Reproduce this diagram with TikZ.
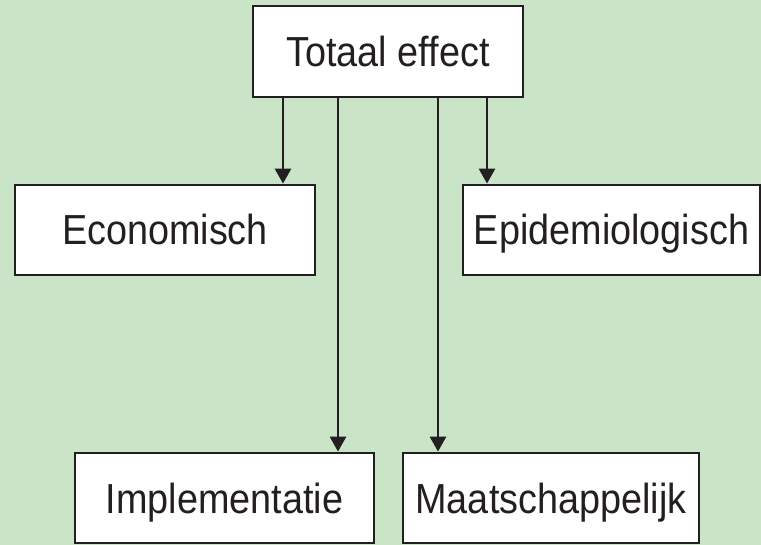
\documentclass[tikz,border=0pt]{standalone}
\usepackage{fontspec}
\setmainfont[FakeStretch=0.9]{Liberation Sans}
\usepackage{tikz}
\usetikzlibrary{arrows.meta}
\definecolor{bggreen}{HTML}{C9E4C7}
\definecolor{inkdark}{HTML}{231F20}

\begin{document}
\begin{tikzpicture}[x=1pt,y=-1pt,
	effectbox/.style={shape=rectangle,draw=inkdark,fill=white,line width=2.8pt,
		inner sep=0pt,minimum height=90pt,font=\fontsize{42}{48}\selectfont,
		text=inkdark,text height=30pt,text depth=0pt},
	effectarrow/.style={-{Triangle[length=15pt,width=16pt]},draw=inkdark,line width=2.8pt}]
	
	\fill[bggreen] (0,0) rectangle (761,545);
	\useasboundingbox (0,0) rectangle (761,545);
	
	\node[effectbox,minimum width=270pt,minimum height=91pt] (totaal) at (388, 51.5) {Totaal effect};
	\node[effectbox,minimum width=300pt] (econ) at (165, 230)   {Economisch};
	\node[effectbox,minimum width=297pt] (epid) at (611.5, 230) {Epidemiologisch};
	\node[effectbox,minimum width=299pt] (impl) at (224.5, 498) {Implementatie};
	\node[effectbox,minimum width=296pt] (maat) at (551, 498)   {Maatschappelijk};
	
	\coordinate (econ out) at ([xshift=-105pt]totaal.south);
	\coordinate (impl out) at ([xshift=-50pt]totaal.south);
	\coordinate (maat out) at ([xshift=50pt]totaal.south);
	\coordinate (epid out) at ([xshift=99pt]totaal.south);
	
	\draw[effectarrow] (econ out) -- (econ out |- econ.north);
	\draw[effectarrow] (impl out) -- (impl out |- impl.north);
	\draw[effectarrow] (maat out) -- (maat out |- maat.north);
	\draw[effectarrow] (epid out) -- (epid out |- epid.north);
	
\end{tikzpicture}
\end{document}
